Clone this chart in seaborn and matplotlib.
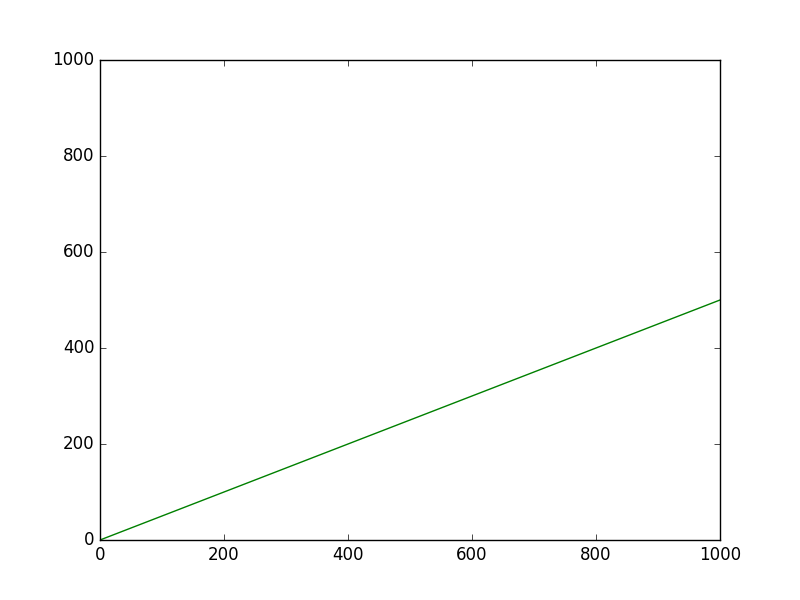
import matplotlib
matplotlib.use("Agg")
import matplotlib.pyplot as plt
import seaborn as sns

# ===== DATA =====
x_vals = [0, 1000]
y_vals = [0, 500]
x_ticks = [0, 200, 400, 600, 800, 1000]
y_ticks = [0, 200, 400, 600, 800, 1000]

# old-style matplotlib look
plt.style.use("classic")
plt.rcParams["font.family"] = ["DejaVu Sans"]

fig = plt.figure(figsize=(8, 6), dpi=100, facecolor="white")
ax = fig.add_axes([0.125, 0.1, 0.775, 0.8])

sns.lineplot(x=x_vals, y=y_vals, color="green", linewidth=1, ax=ax)

ax.set_xlim(0, 1000)
ax.set_ylim(0, 1000)
ax.set_xticks(x_ticks)
ax.set_yticks(y_ticks)
ax.tick_params(direction="in", top=True, right=True, labelsize=12, length=4)
ax.set_xlabel("")
ax.set_ylabel("")

fig.savefig("out.png", dpi=100, facecolor="white")
